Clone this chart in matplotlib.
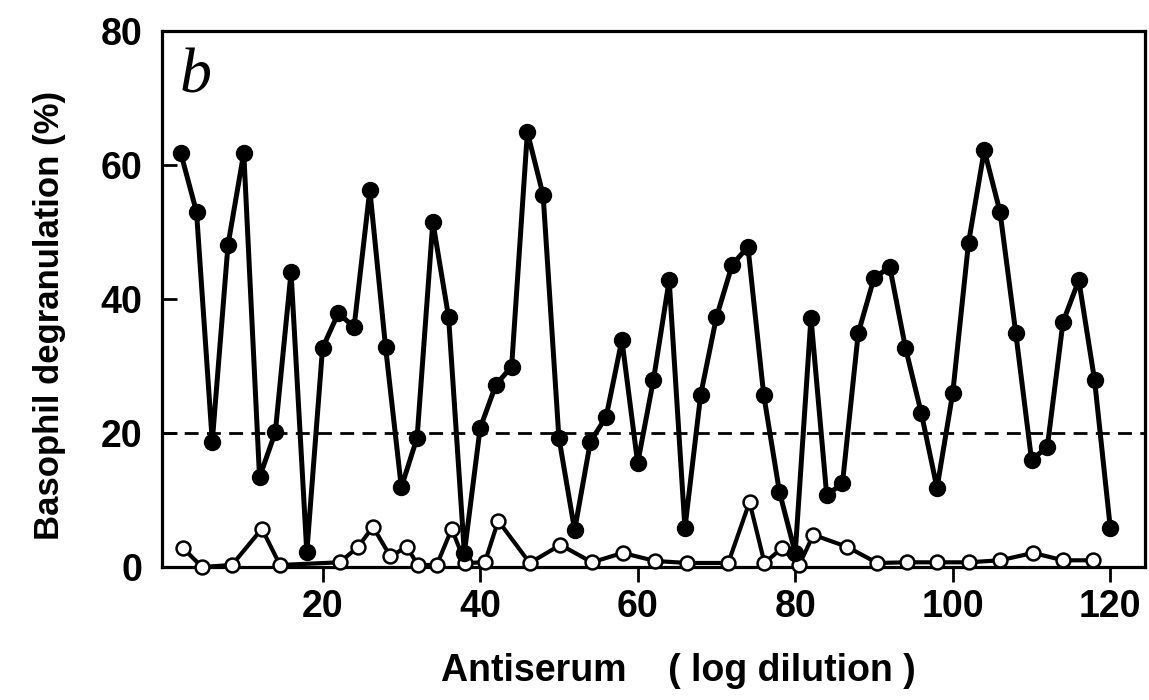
import matplotlib
matplotlib.use("Agg")
import matplotlib.pyplot as plt
from matplotlib import font_manager

# ---- data ----
dilution_filled = [2, 4, 6, 8, 10, 12, 14, 16, 18, 20,
                   22, 24, 26, 28, 30, 32, 34, 36, 38, 40,
                   42, 44, 46, 48, 50, 52, 54, 56, 58, 60,
                   62, 64, 66, 68, 70, 72, 74, 76, 78, 80,
                   82, 84, 86, 88, 90, 92, 94, 96, 98, 100,
                   102, 104, 106, 108, 110, 112, 114, 116, 118, 120]
antiserum_pct = [61.8, 53.0, 18.7, 48.1, 61.8, 13.4, 20.1, 44.0, 2.2, 32.7,
                 37.9, 35.8, 56.3, 32.8, 11.9, 19.3, 51.5, 37.3, 2.1, 20.7,
                 27.2, 29.9, 64.9, 55.5, 19.3, 5.5, 18.7, 22.4, 33.9, 15.5,
                 27.9, 42.8, 5.8, 25.7, 37.3, 45.1, 47.8, 25.7, 11.2, 2.1,
                 37.2, 10.7, 12.5, 34.9, 43.1, 44.8, 32.7, 23.0, 11.8, 26.0,
                 48.4, 62.2, 53.0, 34.9, 16.0, 17.9, 36.6, 42.8, 27.9, 5.8]

dilution_open = [2.3, 4.7, 8.5, 12.3, 14.6, 22.2, 24.5, 26.4, 28.6, 30.7,
                 32.1, 34.5, 36.4, 38.1, 40.6, 42.3, 46.3, 50.2, 54.2, 58.1,
                 62.2, 66.3, 71.5, 74.2, 76.1, 78.3, 80.5, 82.3, 86.6, 90.4,
                 94.2, 98.0, 102.0, 106.0, 110.2, 114.0, 117.8]
control_pct = [2.8, 0.0, 0.3, 5.7, 0.3, 0.7, 3.0, 6.0, 1.6, 3.0,
               0.3, 0.3, 5.7, 0.6, 0.7, 6.9, 0.6, 3.3, 0.7, 2.1,
               0.9, 0.6, 0.6, 9.7, 0.6, 2.8, 0.3, 4.8, 3.0, 0.6,
               0.7, 0.7, 0.7, 1.0, 2.1, 1.0, 1.0]

threshold = 20
x_ticks = [20, 40, 60, 80, 100, 120]
y_ticks = [0, 20, 40, 60, 80]

# ---- fonts ----
names = {f.name for f in font_manager.fontManager.ttflist}
sans = "Liberation Sans" if "Liberation Sans" in names else "DejaVu Sans"
if "Liberation Sans Narrow" in names:
    ylab_family, ylab_size, ylab_weight = ["Liberation Sans Narrow", sans], 30, "bold"
else:
    ylab_family, ylab_size, ylab_weight = [sans], 25, "bold"

fig = plt.figure(figsize=(11.49, 7.0), dpi=100)
ax = fig.add_axes([0.141, 0.19, 0.8555, 0.7657])

ax.axhline(threshold, color="black", lw=2.0, linestyle=(0, (5.0, 3.0)), zorder=1)

ax.plot(dilution_open, control_pct, color="black", lw=3.0, marker="o",
        markersize=10, markerfacecolor="white", markeredgecolor="black",
        markeredgewidth=1.8, clip_on=False, zorder=3)
ax.plot(dilution_filled, antiserum_pct, color="black", lw=3.6, marker="o",
        markersize=11.5, markerfacecolor="black", markeredgecolor="black",
        clip_on=False, zorder=4)

ax.set_xlim(-0.38, 124.4)
ax.set_ylim(0, 80)
ax.set_xticks(x_ticks)
ax.set_yticks(y_ticks)

for sp in ax.spines.values():
    sp.set_linewidth(2.3)

ax.tick_params(axis="x", direction="out", length=11, width=2.0, pad=5)
ax.tick_params(axis="y", direction="in", length=11, width=2.0, pad=14)
for lab in ax.get_xticklabels() + ax.get_yticklabels():
    lab.set_fontfamily(sans)
    lab.set_fontweight("bold")
    lab.set_fontsize(27)

ax.set_xlabel("Antiserum    ( log dilution )", fontfamily=sans,
              fontweight="bold", fontsize=27)
ax.xaxis.set_label_coords(0.525, -0.16)

ax.set_ylabel("Basophil degranulation (%)", fontfamily=ylab_family,
              fontweight=ylab_weight, fontsize=ylab_size)
ax.yaxis.set_label_coords(-0.098, 0.47)

ax.text(0.018, 0.886, "b", transform=ax.transAxes, fontfamily="Liberation Serif",
        fontstyle="italic", fontsize=46, va="baseline", ha="left")

fig.savefig("out.png", dpi=100)
